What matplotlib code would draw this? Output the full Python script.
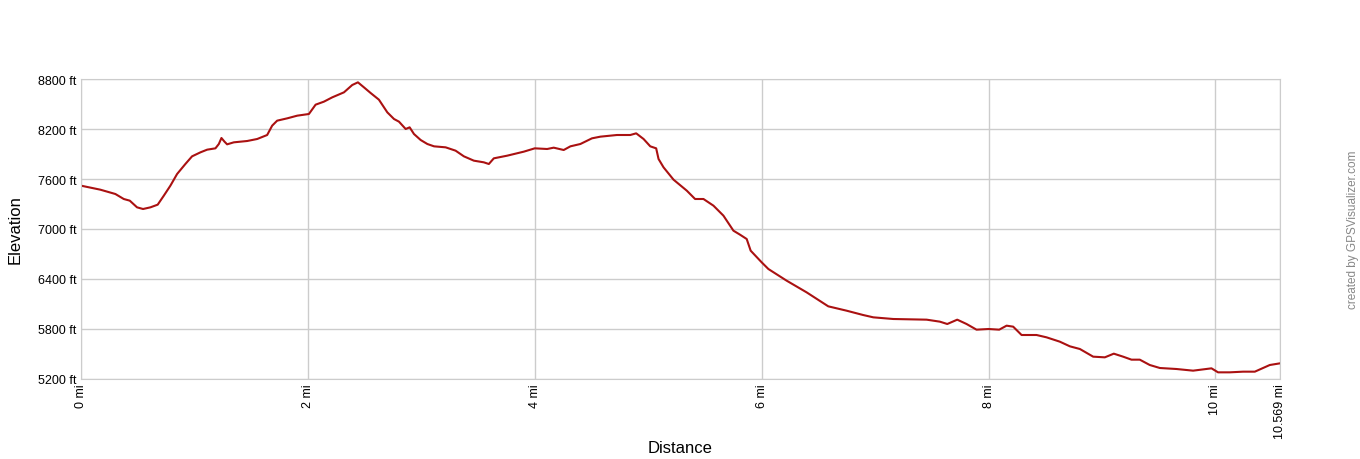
import numpy as np
import matplotlib.pyplot as plt

# ------------------- Profile data -------------------
dist_mi = [0, 0.17, 0.303, 0.377, 0.43, 0.494, 0.547, 0.612, 0.676, 0.73, 0.788,
           0.847, 0.92, 0.979, 1.053, 1.112, 1.185, 1.215, 1.238, 1.265, 1.288,
           1.347, 1.465, 1.553, 1.641, 1.685, 1.729, 1.818, 1.906, 2.009, 2.068,
           2.141, 2.215, 2.318, 2.391, 2.441, 2.494, 2.553, 2.626, 2.7, 2.759,
           2.803, 2.862, 2.897, 2.935, 2.994, 3.053, 3.112, 3.214, 3.302, 3.375,
           3.463, 3.551, 3.595, 3.639, 3.757, 3.903, 4.0, 4.109, 4.167, 4.255,
           4.314, 4.402, 4.504, 4.578, 4.724, 4.842, 4.894, 4.959, 5.018, 5.07,
           5.091, 5.135, 5.223, 5.34, 5.413, 5.487, 5.575, 5.663, 5.751, 5.809,
           5.868, 5.903, 6.0, 6.059, 6.22, 6.396, 6.587, 6.748, 6.894, 6.984,
           7.16, 7.454, 7.571, 7.636, 7.724, 7.806, 7.894, 8.0, 8.094, 8.159,
           8.217, 8.291, 8.423, 8.511, 8.628, 8.717, 8.805, 8.922, 9.025, 9.104,
           9.186, 9.26, 9.333, 9.421, 9.51, 9.656, 9.803, 9.965, 10.023, 10.126,
           10.244, 10.347, 10.479, 10.569]
elev_ft = [7520, 7472, 7420, 7360, 7340, 7260, 7240, 7260, 7292, 7400, 7520,
           7660, 7780, 7872, 7920, 7952, 7968, 8020, 8092, 8048, 8016,
           8040, 8056, 8080, 8128, 8240, 8300, 8328, 8360, 8380, 8492,
           8528, 8580, 8640, 8728, 8760, 8700, 8632, 8552, 8400, 8320,
           8288, 8200, 8220, 8140, 8068, 8020, 7992, 7980, 7940, 7872,
           7820, 7800, 7780, 7848, 7880, 7928, 7968, 7960, 7976, 7948,
           7992, 8020, 8088, 8108, 8128, 8128, 8148, 8080, 7992, 7968,
           7840, 7740, 7592, 7460, 7360, 7360, 7280, 7160, 6980, 6932,
           6880, 6740, 6600, 6520, 6380, 6240, 6072, 6020, 5968, 5940,
           5920, 5912, 5888, 5860, 5912, 5860, 5792, 5800, 5792, 5840,
           5828, 5728, 5728, 5700, 5648, 5592, 5560, 5468, 5460, 5504,
           5468, 5432, 5432, 5368, 5332, 5320, 5300, 5328, 5280, 5280,
           5288, 5288, 5368, 5388]

y_ticks = [5200, 5800, 6400, 7000, 7600, 8200, 8800]
x_ticks = [0, 2, 4, 6, 8, 10, 10.569]
x_tick_labels = ["0 mi", "2 mi", "4 mi", "6 mi", "8 mi", "10 mi", "10.569 mi"]

# ------------------- Plot -------------------
plt.rcParams['font.family'] = ['Liberation Sans', 'DejaVu Sans']

fig = plt.figure(figsize=(13.6, 4.6), dpi=100)
ax = fig.add_axes([81 / 1360, 80 / 460, 1199 / 1360, 300 / 460])

ax.plot(dist_mi, elev_ft, color="#aa1111", linewidth=1.5)

ax.set_xlim(0, 10.569)
ax.set_ylim(5200, 8800)
ax.set_yticks(y_ticks)
ax.set_yticklabels([f"{v} ft" for v in y_ticks], fontsize=9)
ax.set_xticks(x_ticks)
ax.set_xticklabels(x_tick_labels, rotation=90, fontsize=9, va="top")
ax.tick_params(length=0, pad=3)
ax.grid(True, color="#cccccc", linewidth=1)
for s in ax.spines.values():
    s.set_color("#cccccc")

ax.set_xlabel("Distance", fontsize=12)
ax.set_ylabel("Elevation", fontsize=12)
ax.xaxis.set_label_coords(0.5, -0.205)
ax.yaxis.set_label_coords(-0.049, 0.5)

fig.text(1353 / 1360, 0.5, "created by GPSVisualizer.com", rotation=90,
         color="#888888", fontsize=8.5, ha="center", va="center")

fig.savefig("out.png", dpi=100)
